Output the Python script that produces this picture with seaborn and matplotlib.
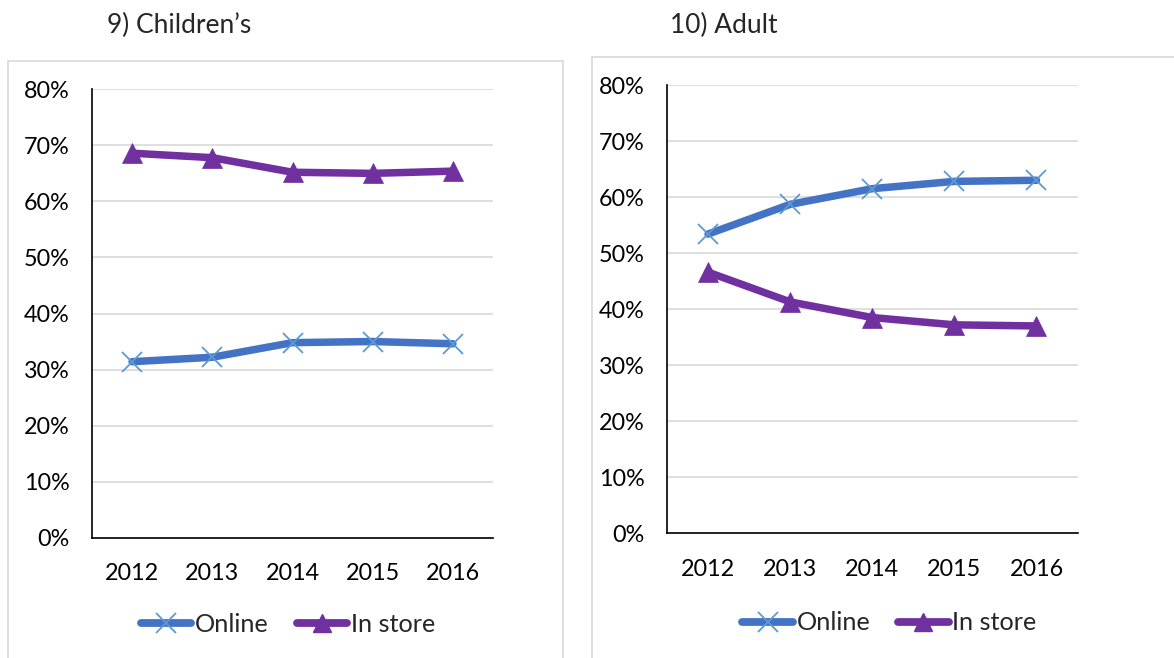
import matplotlib
matplotlib.use("Agg")
import matplotlib.pyplot as plt
from matplotlib.patches import Rectangle
from matplotlib.lines import Line2D
import seaborn as sns

# Share of purchases by channel, 2012-2016
years = ["2012", "2013", "2014", "2015", "2016"]
childrens_online = [31.4, 32.2, 34.8, 35.0, 34.6]
childrens_in_store = [68.6, 67.8, 65.2, 65.0, 65.4]
adult_online = [53.4, 58.7, 61.5, 62.8, 63.0]
adult_in_store = [46.6, 41.3, 38.5, 37.2, 37.0]
y_ticks = [0, 10, 20, 30, 40, 50, 60, 70, 80]
y_tick_labels = [f"{v}%" for v in y_ticks]

sns.set_theme(style="white")
plt.rcParams["font.family"] = ["Lato", "DejaVu Sans"]

W, H = 1174, 658
FS = 16.8
FS_TITLE = 19
FS_LEGEND = 18.2
BLUE = "#4472C4"
LIGHT_BLUE = "#5B9BD5"
PURPLE = "#7030A0"
GRID = "#D9D9D9"

fig = plt.figure(figsize=(W / 100, H / 100), dpi=100)
fig.patch.set_facecolor("white")


def px_axes(x0, y_top, x1, y_bottom):
    return fig.add_axes([x0 / W, 1 - y_bottom / H, (x1 - x0) / W, (y_bottom - y_top) / H])


def frame(x0, y0, x1, y1):
    fig.patches.append(Rectangle((x0 / W, 1 - y1 / H), (x1 - x0) / W, (y1 - y0) / H,
                                 transform=fig.transFigure, fill=False,
                                 edgecolor=GRID, linewidth=1.2, zorder=0))


def panel(ax, online, in_store):
    pos = list(range(len(years)))
    sns.lineplot(x=pos, y=online, ax=ax, color=BLUE, linewidth=5.4,
                 marker="x", markersize=14, markeredgecolor=LIGHT_BLUE,
                 markeredgewidth=1.3, solid_joinstyle="round",
                 solid_capstyle="round", legend=False, zorder=3)
    sns.lineplot(x=pos, y=in_store, ax=ax, color=PURPLE, linewidth=5.4,
                 marker="^", markersize=14, markeredgecolor=PURPLE,
                 markerfacecolor=PURPLE, markeredgewidth=0.5,
                 solid_joinstyle="round", solid_capstyle="round",
                 legend=False, zorder=3)
    ax.set_xlim(-0.5, len(years) - 0.5)
    ax.set_ylim(0, 80)
    ax.set_xticks(pos)
    ax.set_xticklabels(years, fontsize=FS)
    ax.set_yticks(y_ticks)
    ax.set_yticklabels(y_tick_labels, fontsize=FS)
    ax.tick_params(axis="x", length=0, pad=18.5)
    ax.tick_params(axis="y", length=0, pad=16)
    ax.yaxis.grid(True, color=GRID, linewidth=1.2)
    ax.set_axisbelow(True)
    ax.set_xlabel("")
    ax.set_ylabel("")
    for side in ("top", "right"):
        ax.spines[side].set_visible(False)
    for side in ("left", "bottom"):
        ax.spines[side].set_color("black")
        ax.spines[side].set_linewidth(1.2)
    ax.set_facecolor("none")
    for lab in ax.get_xticklabels() + ax.get_yticklabels():
        lab.set_color("black")


def legend(cx, cy):
    handles = [
        Line2D([], [], color=BLUE, linewidth=5.6, marker="x", markersize=14,
               markeredgecolor=LIGHT_BLUE, markeredgewidth=1.3, solid_capstyle="round"),
        Line2D([], [], color=PURPLE, linewidth=5.6, marker="^", markersize=13,
               markeredgecolor=PURPLE, markerfacecolor=PURPLE, solid_capstyle="round"),
    ]
    fig.legend(handles, ["Online", "In store"], loc="center",
               bbox_to_anchor=(cx / W, 1 - cy / H), ncol=2, frameon=False,
               fontsize=FS_LEGEND, handlelength=2.0, handletextpad=0.15,
               columnspacing=1.1, numpoints=1, borderpad=0)


# Children's panel
frame(7.5, 61, 563, 700)
ax1 = px_axes(92, 89.3, 493, 537.7)
panel(ax1, childrens_online, childrens_in_store)
fig.text(107 / W, 1 - 25 / H, "9) Children\u2019s", fontsize=FS_TITLE, ha="left", va="center")
legend(288, 624)

# Adult panel
frame(592, 57, 1200, 700)
ax2 = px_axes(667, 85, 1077.5, 533.3)
panel(ax2, adult_online, adult_in_store)
fig.text(670 / W, 1 - 25 / H, "10) Adult", fontsize=FS_TITLE, ha="left", va="center")
legend(889.5, 623)

fig.savefig("out.png", dpi=100, facecolor="white")
